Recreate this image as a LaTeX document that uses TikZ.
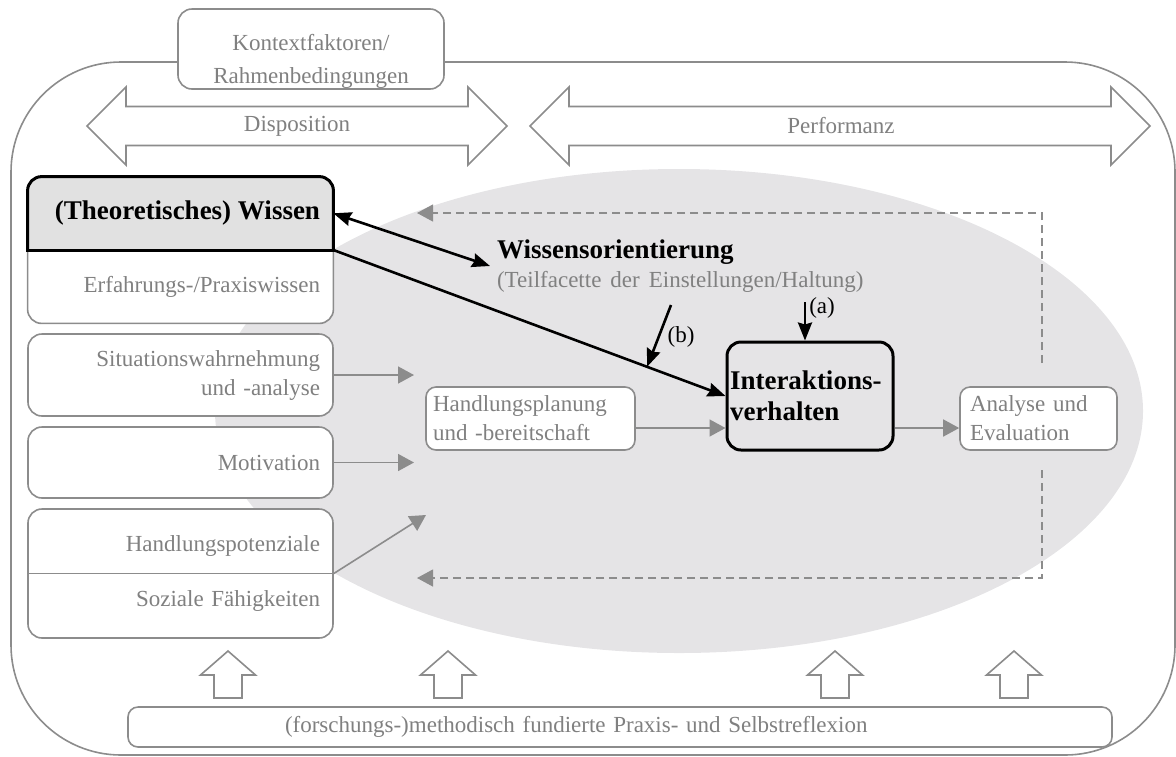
\documentclass[tikz,border=0pt]{standalone}
\usepackage{fontspec}
\setmainfont{Liberation Serif}
\usepackage{tikz}
\usetikzlibrary{arrows.meta,positioning,calc}
\usepackage{xcolor}
\definecolor{kgray}{RGB}{128,128,128}
\definecolor{kline}{RGB}{140,140,140}
\definecolor{kellipse}{RGB}{229,228,230}
\definecolor{kfill}{RGB}{225,225,225}
\newcommand{\widespace}{\spaceskip 4.5pt plus 1pt\relax}
\tikzstyle{graytext} = [text=kgray, font={\fontsize{11.5}{14.5}\selectfont\widespace}]
\tikzstyle{boldtext} = [text=black, font={\fontsize{13.5}{15.5}\selectfont\bfseries}]
\tikzstyle{graybox} = [rectangle, rounded corners=7pt, draw=kline, line width=0.8pt, fill=white, graytext]
\tikzstyle{leftbox} = [graybox, text width=139.5pt, inner xsep=6.5pt, align=right]
\tikzstyle{stepbox} = [graybox, rounded corners=5pt, minimum height=31.5pt, align=left]
\tikzstyle{blockarrow} = [draw=kline, line width=0.8pt, fill=white]
\tikzstyle{grayarrow} = [draw=kline, line width=0.8pt, -{Triangle[length=8pt,width=8.5pt]}]
\tikzstyle{feedback} = [grayarrow, line width=0.6pt, dash pattern=on 4pt off 2.5pt]
\tikzstyle{blackarrow} = [line width=1.3pt, >={Stealth[length=9pt,width=7pt,inset=1pt]}, ->]

\begin{document}
\begin{tikzpicture}[x=0.5pt, y=-0.5pt]
\useasboundingbox (0,0) rectangle (1176,756);
% Frame and background ellipse
\draw[draw=kline, line width=0.8pt, rounded corners=55pt] (11,62) rectangle (1175,755);
\fill[kellipse] (679,411) ellipse [x radius=232pt, y radius=121pt];

% Context box
\node (kontext) [graybox, minimum width=133pt, minimum height=40pt, inner ysep=0.5pt, align=center, font={\fontsize{11.5}{16.5}\selectfont}] at (311,49) {\rule{0pt}{20pt}Kontextfaktoren/\\Rahmenbedingungen};

% Disposition / Performanz
\draw[blockarrow] (87,126) -- (126,87) -- (126,106.5) -- (468,106.5) -- (468,87) -- (507,126) -- (468,165) -- (468,145.5) -- (126,145.5) -- (126,165) -- cycle;
\draw[blockarrow] (530,126) -- (569,87) -- (569,106.5) -- (1111,106.5) -- (1111,87) -- (1150,126) -- (1111,165) -- (1111,145.5) -- (569,145.5) -- (569,165) -- cycle;
\node (dispo) [graytext] at (297,126) {Disposition};
\node (perf) [graytext] at (841,126) {Performanz};

% Knowledge box
\node (wissen) [minimum width=152.5pt, minimum height=73pt, inner sep=0pt] at (180.5,250) {};
\begin{scope}
\clip (0,0) rectangle (1176,250);
\draw[draw=black, line width=1.5pt, fill=kfill, rounded corners=7pt] (wissen.north west) rectangle (wissen.south east);
\end{scope}
\begin{scope}
\clip (0,250) rectangle (1176,756);
\draw[draw=kline, line width=0.8pt, fill=white, rounded corners=7pt] (wissen.north west) rectangle (wissen.south east);
\end{scope}
\draw[line width=1.5pt, line cap=rect] (wissen.west) -- (wissen.east);
\node (theo) [boldtext, anchor=east, inner xsep=6.5pt] at ($(wissen.north east)!0.5!(wissen.east)$) {(Theoretisches) Wissen};
\node (praxis) [graytext, anchor=east, inner xsep=6.5pt] at ($(wissen.south east)!0.5!(wissen.east)$) {Erfahrungs-/Praxiswissen};

% Left column
\node (situation) [leftbox, minimum height=41pt] at (180.5,375) {Situationswahrnehmung\\und -analyse};
\node (motiv) [leftbox, minimum height=35.5pt] at (180.5,462.5) {Motivation};
\node (hpot) [leftbox, minimum height=64.5pt] at (180.5,573.5) {Handlungspotenziale\\[13pt]Soziale Fähigkeiten};
\draw[draw=kline, line width=0.8pt] (hpot.west) -- (hpot.east);

% Process chain
\node (planung) [stepbox, minimum width=104.5pt, text width=97.5pt, inner xsep=3.5pt] at (530.5,418.5) {Handlungsplanung\\und -bereitschaft};
\node (inter) [rectangle, rounded corners=7pt, draw=black, line width=1.5pt, boldtext, minimum width=83pt, minimum height=54pt, text width=80pt, inner xsep=1.5pt, align=left] at (810,396) {Interaktions-\\verhalten};
\node (analyse) [stepbox, minimum width=78.5pt, text width=68.5pt, inner xsep=5pt] at (1038.5,418.5) {Analyse und\\Evaluation};
\node (wissorient) [anchor=west, align=left, font={\fontsize{11.5}{14.5}\selectfont\widespace}] at (490,266) {{\fontsize{13.5}{15.5}\selectfont\bfseries Wissensorientierung}\\{\color{kgray}(Teilfacette der Einstellungen/Haltung)}};

% Reflection
\node (reflexion) [graybox, rounded corners=5pt, minimum width=492pt, minimum height=20pt, text width=335pt, inner xsep=78.5pt, align=left] at (620,727) {(forschungs-)methodisch fundierte Praxis- und Selbstreflexion};
\draw[blockarrow] (214,698) -- (214,675) -- (200.5,675) -- (228,651) -- (255.5,675) -- (242,675) -- (242,698) -- cycle;
\draw[blockarrow] (434,698) -- (434,675) -- (420.5,675) -- (448,651) -- (475.5,675) -- (462,675) -- (462,698) -- cycle;
\draw[blockarrow] (821,698) -- (821,675) -- (807.5,675) -- (835,651) -- (862.5,675) -- (849,675) -- (849,698) -- cycle;
\draw[blockarrow] (1000,698) -- (1000,675) -- (986.5,675) -- (1014,651) -- (1041.5,675) -- (1028,675) -- (1028,698) -- cycle;

% Gray connectors
\coordinate (sitend) at (414,375);
\coordinate (motend) at (414,462.5);
\coordinate (potend) at (426,515);
\coordinate (flow) at (0,428);
\draw[grayarrow] (situation.east) -- (sitend);
\draw[grayarrow] (motiv.east) -- (motend);
\draw[grayarrow] (hpot.east) -- (potend);
\draw[grayarrow] (planung.east |- flow) -- (inter.west |- flow);
\draw[grayarrow] (inter.east |- flow) -- (analyse.west |- flow);

% Feedback loops
\coordinate (fbup) at (1042,363);
\coordinate (fbdown) at (1042,470);
\coordinate (fbtop) at (417,213);
\coordinate (fbbottom) at (417,578);
\draw[feedback] (fbup) |- (fbtop);
\draw[feedback] (fbdown) |- (fbbottom);

% Black connectors
\coordinate (bstart) at (671,305);
\coordinate (bend) at ($(wissen.east)!0.8!(inter.west)$);
\coordinate (astart) at (805,302);
\draw[blackarrow, <->] (theo.east) -- (wissorient.west);
\draw[blackarrow] (wissen.east) -- (inter.west);
\draw[blackarrow] (bstart) -- (bend);
\draw[blackarrow] (astart) -- (astart |- inter.north);
\node (blabel) [font={\fontsize{11.5}{14.5}\selectfont}] at (681,337) {(b)};
\node (alabel) [font={\fontsize{11.5}{14.5}\selectfont}] at (822,308) {(a)};
\end{tikzpicture}
\end{document}
